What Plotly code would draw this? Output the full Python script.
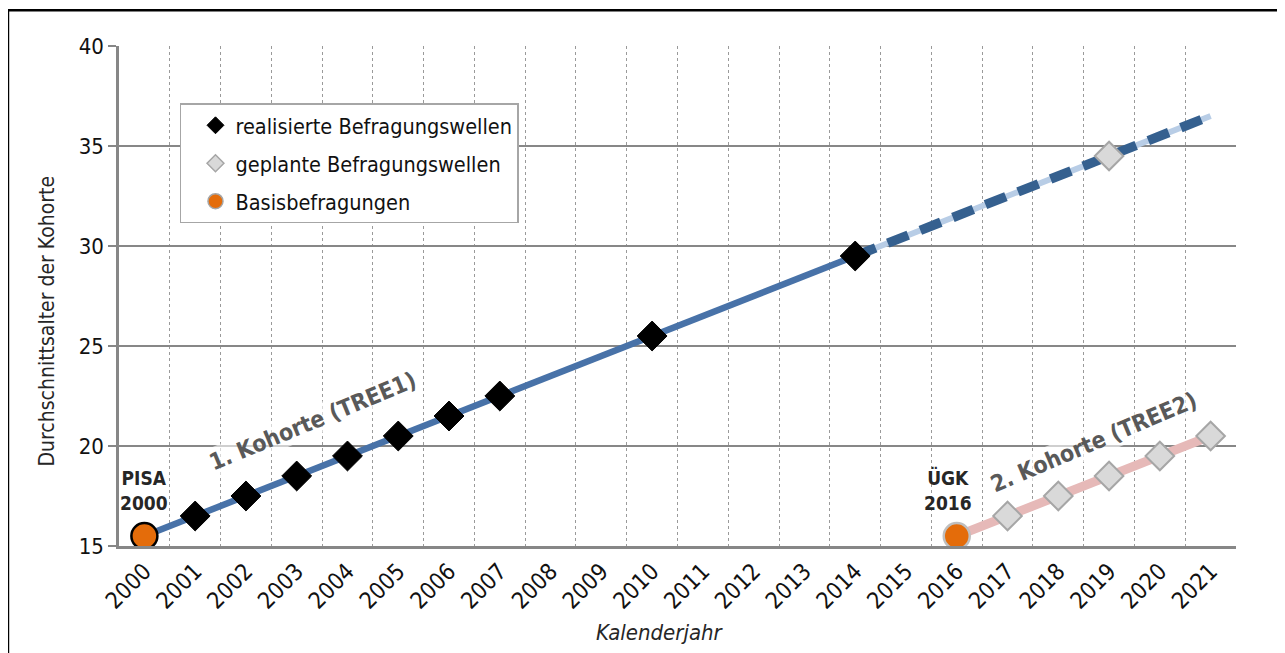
import plotly.graph_objects as go

# ---------------- data ----------------
years_all = list(range(2000, 2022))
tick_labels = [str(y) for y in years_all]

# cohort 1 (TREE1)
c1_line_years = [2000, 2001, 2002, 2003, 2004, 2005, 2006, 2007, 2010, 2014]
c1_line_age = [15.5, 16.5, 17.5, 18.5, 19.5, 20.5, 21.5, 22.5, 25.5, 29.5]
c1_proj_years = [2014, 2019, 2021]
c1_proj_age = [29.5, 34.5, 36.5]

# cohort 2 (TREE2)
c2_line_years = [2016, 2017, 2018, 2019, 2020, 2021]
c2_line_age = [15.5, 16.5, 17.5, 18.5, 19.5, 20.5]

# markers
realized_years = [2001, 2002, 2003, 2004, 2005, 2006, 2007, 2010, 2014]
realized_age = [16.5, 17.5, 18.5, 19.5, 20.5, 21.5, 22.5, 25.5, 29.5]
planned_years = [2019, 2017, 2018, 2019, 2020, 2021]
planned_age = [34.5, 16.5, 17.5, 18.5, 19.5, 20.5]
basis_years = [2000, 2016]
basis_age = [15.5, 15.5]
basis_labels = ["PISA<br>2000", "ÜGK<br>2016"]

legend_names = ["realisierte Befragungswellen", "geplante Befragungswellen", "Basisbefragungen"]

# ---------------- style ----------------
NARROW = "Liberation Sans Narrow, Arial Narrow, DejaVu Sans Condensed, sans-serif"
BLUE = "#4872A8"
DARKBLUE = "#35608F"
LIGHTBLUE = "#B8CDE6"
PINK = "#E6B9B8"
ORANGE = "#E46C0A"
GREYFILL = "#D9D9D9"
GREYLINE = "#A6A6A6"
AXISGREY = "#878787"

fig = go.Figure()

# lines
fig.add_trace(go.Scatter(x=c2_line_years, y=c2_line_age, mode="lines",
                         line=dict(color=PINK, width=9), showlegend=False, hoverinfo="skip"))
fig.add_trace(go.Scatter(x=c1_proj_years, y=c1_proj_age, mode="lines",
                         line=dict(color=LIGHTBLUE, width=6), showlegend=False, hoverinfo="skip"))
fig.add_trace(go.Scatter(x=c1_proj_years, y=c1_proj_age, mode="lines",
                         line=dict(color=DARKBLUE, width=9.5, dash="22px,13px"),
                         showlegend=False, hoverinfo="skip"))
fig.add_trace(go.Scatter(x=c1_line_years, y=c1_line_age, mode="lines",
                         line=dict(color=BLUE, width=6.5), showlegend=False, hoverinfo="skip"))

# markers
fig.add_trace(go.Scatter(x=planned_years, y=planned_age, mode="markers",
                         marker=dict(symbol="diamond", size=22, color=GREYFILL,
                                     line=dict(color=GREYLINE, width=2)),
                         showlegend=False))
fig.add_trace(go.Scatter(x=realized_years, y=realized_age, mode="markers",
                         marker=dict(symbol="diamond", size=23, color="black",
                                     line=dict(color="black", width=1)),
                         showlegend=False))
fig.add_trace(go.Scatter(x=basis_years, y=basis_age, mode="markers",
                         marker=dict(symbol="circle", size=26, color=ORANGE,
                                     line=dict(color=["black", "#BFBFBF"], width=2.5)),
                         showlegend=False))

# legend entries
fig.add_trace(go.Scatter(x=[None], y=[None], mode="markers", name=legend_names[0],
                         legendgroup="a",
                         marker=dict(symbol="diamond", size=13, color="black",
                                     line=dict(color="black", width=1))))
fig.add_trace(go.Scatter(x=[None], y=[None], mode="markers", name=legend_names[1],
                         legendgroup="b",
                         marker=dict(symbol="diamond", size=13, color=GREYFILL,
                                     line=dict(color=GREYLINE, width=1.5))))
fig.add_trace(go.Scatter(x=[None], y=[None], mode="markers", name=legend_names[2],
                         legendgroup="c",
                         marker=dict(symbol="circle", size=15, color=ORANGE,
                                     line=dict(color=GREYLINE, width=1.5))))

annotations = []
for xv, yv, txt in zip(basis_years, basis_age, basis_labels):
    annotations.append(dict(x=xv, xshift=0 if xv == 2000 else -9, y=yv, yshift=46,
                            xref="x", yref="y", xanchor="center", yanchor="middle",
                            text="<b>" + txt.replace("<br>", "</b><br><b>") + "</b>",
                            showarrow=False, font=dict(family=NARROW, size=19, color="#262626"),
                            align="center"))
annotations += [
    dict(x=2003.32, y=21.25, xref="x", yref="y", text="<b>1. Kohorte (TREE1)</b>",
         xanchor="center", yanchor="middle",
         showarrow=False, textangle=-22.5, bgcolor="rgba(255,255,255,0.6)",
         font=dict(family=NARROW, size=23, color="#595959")),
    dict(x=2018.7, y=20.2, xref="x", yref="y", text="<b>2. Kohorte (TREE2)</b>",
         xanchor="center", yanchor="middle",
         showarrow=False, textangle=-23, bgcolor="rgba(255,255,255,0.6)",
         font=dict(family=NARROW, size=23, color="#595959")),
    dict(x=2010.15, y=-0.1726, xref="x", yref="paper", text="<i>Kalenderjahr</i>",
         xanchor="center", yanchor="middle",
         showarrow=False, font=dict(family=NARROW, size=22, color="#262626")),
    dict(x=-0.0636, y=0.451, xref="paper", yref="paper", text="Durchschnittsalter der Kohorte",
         xanchor="center", yanchor="middle",
         showarrow=False, textangle=-90, font=dict(family=NARROW, size=21, color="#262626")),
]

fig.update_layout(
    width=1277, height=645,
    margin=dict(l=111, r=49, t=38, b=107, autoexpand=False),
    paper_bgcolor="white", plot_bgcolor="white",
    font=dict(family=NARROW, size=21, color="#262626"),
    showlegend=True,
    legend=dict(x=0.0546, y=0.8854, xanchor="left", yanchor="top",
                bgcolor="white", bordercolor="#A6A6A6", borderwidth=1.5,
                font=dict(family=NARROW, size=21.5, color="#111111"),
                tracegroupgap=7, indentation=14, itemsizing="trace"),
    annotations=annotations,
    shapes=[dict(type="rect", xref="paper", yref="paper",
                 x0=-0.0994, x1=1.06, y0=-0.25, y1=1.0714,
                 line=dict(color="black", width=2.5), fillcolor="rgba(0,0,0,0)", layer="below")],
    xaxis=dict(range=[1999.5, 2021.5], tickmode="array", tickvals=years_all, ticktext=tick_labels,
               tickangle=-45, ticks="", showgrid=False, zeroline=False,
               showline=True, linecolor=AXISGREY, linewidth=2.5,
               tickfont=dict(family=NARROW, size=23, color="#111111"),
               minor=dict(tick0=1999.5, dtick=1, showgrid=True, gridcolor="#9A9A9A",
                          griddash="dot", gridwidth=1.2, ticks="")),
    yaxis=dict(range=[15, 40], dtick=5, tick0=15, ticks="outside", ticklen=8,
               tickcolor=AXISGREY, tickwidth=2, showline=True, linecolor=AXISGREY, linewidth=2.5,
               showgrid=True, gridcolor=AXISGREY, gridwidth=1.8, zeroline=False,
               tickfont=dict(family=NARROW, size=22, color="#111111")),
)

fig.write_html("out.html")
